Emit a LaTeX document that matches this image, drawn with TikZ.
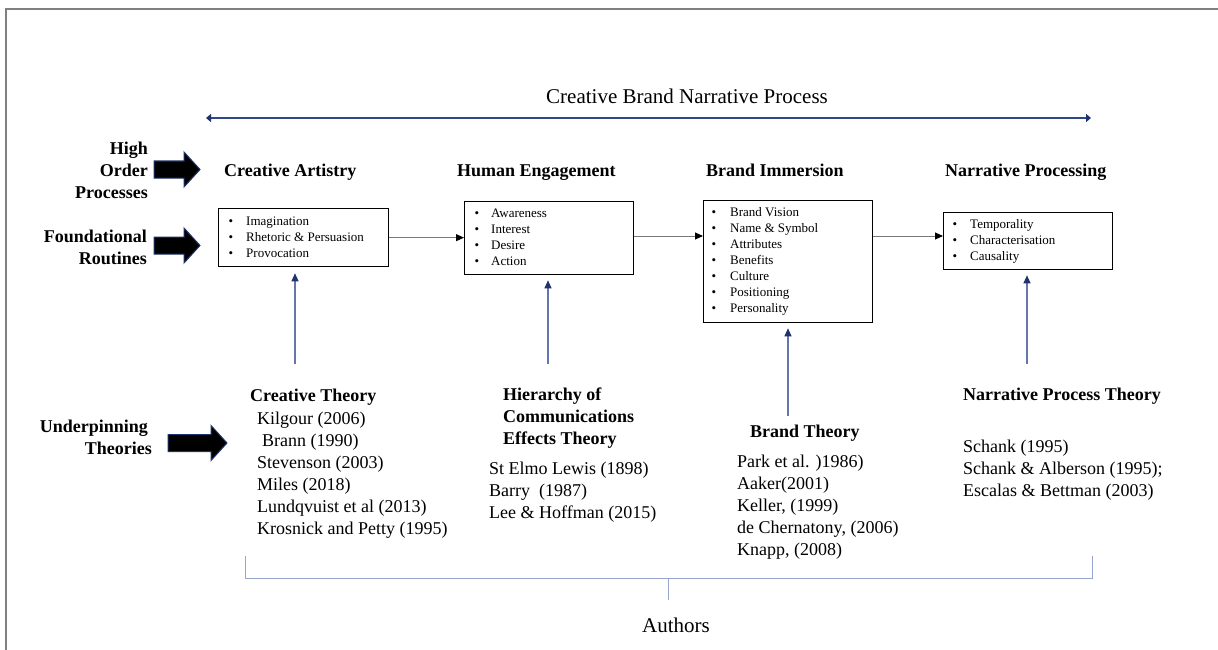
\documentclass[tikz,border=0pt]{standalone}
\usepackage{fontspec}
\setmainfont{Liberation Serif}
\usetikzlibrary{arrows.meta}

\definecolor{framegray}{RGB}{128,128,128}
\definecolor{navyblue}{RGB}{31,52,110}
\definecolor{spanline}{RGB}{48,72,138}
\definecolor{feedline}{RGB}{100,118,172}
\definecolor{bracketline}{RGB}{150,164,206}
\definecolor{flowgray}{RGB}{120,120,120}

% thick black block arrow pointing right: #1 = left x, #2 = centre y, #3 = length
\newcommand\drawfatarrow[3]{%
  \draw[fatarrow] (#1,#2-8.5) -- (#1+#3-16,#2-8.5) -- (#1+#3-16,#2-17.5)
    -- (#1+#3,#2) -- (#1+#3-16,#2+17.5) -- (#1+#3-16,#2+8.5) -- (#1,#2+8.5) -- cycle;}

\tikzset{
  fatarrow/.style={fill=black, draw=navyblue, line width=1pt, line join=miter},
  sidelabel/.style={anchor=base east, inner sep=0pt, font=\fontsize{18}{22}\selectfont\bfseries},
  stagehead/.style={anchor=base west, inner sep=0pt, font=\fontsize{18}{22}\selectfont\bfseries},
  theoryhead/.style={anchor=base west, inner sep=0pt, font=\fontsize{18}{22}\selectfont\bfseries},
  author/.style={anchor=base west, inner sep=0pt, font=\fontsize{18}{22}\selectfont},
  itembox/.style={draw=black, line width=1.3pt, anchor=north west, inner sep=0pt},
  bulletmark/.style={anchor=base, inner sep=0pt, font=\fontsize{13}{16}\selectfont},
  itemtext/.style={anchor=base west, inner sep=0pt, font=\fontsize{13}{16}\selectfont},
  flow/.style={draw=flowgray, line width=0.9pt, -{Triangle[length=8pt,width=7pt,color=black]}},
  feed/.style={draw=feedline, line width=1.1pt, -{Triangle[length=8pt,width=7pt,color=navyblue]}},
  span/.style={draw=spanline, line width=2.6pt, {Triangle[length=5pt,width=8pt,color=navyblue]}-{Triangle[length=5pt,width=8pt,color=navyblue]}},
  bracket/.style={draw=bracketline, line width=1pt},
}

\begin{document}
\begin{tikzpicture}[x=1pt, y=-1pt]
\useasboundingbox (0,0) rectangle (1218,650);

% page frame
\draw[framegray, line width=2pt] (5.5,650) -- (5.5,9.5) -- (1218,9.5);

% overall process span
\node[anchor=base west, inner sep=0pt, font=\fontsize{21}{25}\selectfont] (title) at (546,104) {Creative Brand Narrative Process};
\coordinate (spanL) at (206,118);
\coordinate (spanR) at (1091,118);
\draw[span] (spanL) -- (spanR);

% row labels
\node[sidelabel] (lab1) at (148,154) {High};
\node[sidelabel] (lab2) at (148,176) {Order};
\node[sidelabel] (lab3) at (148,198) {Processes};
\node[sidelabel] (lab4) at (147,242) {Foundational};
\node[sidelabel] (lab5) at (147,264) {Routines};
\node[sidelabel] (lab6) at (148,432) {Underpinning};
\node[sidelabel] (lab7) at (152,454) {Theories};

\drawfatarrow{154}{169.5}{46}
\drawfatarrow{154}{245.5}{46}
\drawfatarrow{168}{443}{59}

% stage headings
\node[stagehead] (h1) at (224,176) {Creative Artistry};
\node[stagehead] (h2) at (457,176) {Human Engagement};
\node[stagehead] (h3) at (706,176) {Brand Immersion};
\node[stagehead] (h4) at (945,176) {Narrative Processing};

% routine boxes
\node[itembox, minimum width=170pt, minimum height=58pt] (b1) at (218,208) {};
\node[itembox, minimum width=169pt, minimum height=73pt] (b2) at (464,201) {};
\node[itembox, minimum width=169pt, minimum height=122pt] (b3) at (703,200) {};
\node[itembox, minimum width=169pt, minimum height=57pt] (b4) at (943,212) {};

\foreach \t [count=\i] in {Imagination, Rhetoric \& Persuasion, Provocation} {
  \node[bulletmark] (b1d\i) at (231,225.5+16*\i-16) {•};
  \node[itemtext] (b1t\i) at (246,225.5+16*\i-16) {\t};
}
\foreach \t [count=\i] in {Awareness, Interest, Desire, Action} {
  \node[bulletmark] (b2d\i) at (477,217.5+16*\i-16) {•};
  \node[itemtext] (b2t\i) at (491,217.5+16*\i-16) {\t};
}
\foreach \t [count=\i] in {Brand Vision, Name \& Symbol, Attributes, Benefits, Culture, Positioning, Personality} {
  \node[bulletmark] (b3d\i) at (714,216.5+16*\i-16) {•};
  \node[itemtext] (b3t\i) at (730,216.5+16*\i-16) {\t};
}
\foreach \t [count=\i] in {Temporality, Characterisation, Causality} {
  \node[bulletmark] (b4d\i) at (955,228.5+16*\i-16) {•};
  \node[itemtext] (b4t\i) at (970,228.5+16*\i-16) {\t};
}

% flow between boxes
\draw[flow] (b1.east) -- (b2.west |- b1.east);
\draw[flow] (b2.east |- 0,236) -- (b3.west |- 0,236);
\draw[flow] (b3.east |- 0,236) -- (b4.west |- 0,236);

% underpinning theories
\node[theoryhead] (t1) at (250,401) {Creative Theory};
\foreach \t [count=\i] in {Kilgour (2006), {\kern5pt Brann (1990)}, Stevenson (2003), Miles (2018), Lundqvuist et al (2013), Krosnick and Petty (1995)} {
  \node[author] (t1a\i) at (257,424+22*\i-22) {\t};
}

\node[theoryhead] (t2a) at (503,400) {Hierarchy of};
\node[theoryhead] (t2b) at (503,422) {Communications};
\node[theoryhead] (t2c) at (503,444) {Effects Theory};
\foreach \t [count=\i] in {St Elmo Lewis (1898), {Barry\ \ (1987)}, Lee \& Hoffman (2015)} {
  \node[author] (t2x\i) at (489,474+22*\i-22) {\t};
}

\node[theoryhead] (t3) at (750,437) {Brand Theory};
\foreach \t [count=\i] in {Park et al. )1986), Aaker(2001), {Keller, (1999)}, {de Chernatony, (2006)}, {Knapp, (2008)}} {
  \node[author] (t3a\i) at (737,467+22*\i-22) {\t};
}

\node[theoryhead] (t4) at (963,400) {Narrative Process Theory};
\foreach \t [count=\i] in {Schank (1995), Schank \& Alberson (1995);, Escalas \& Bettman (2003)} {
  \node[author] (t4a\i) at (963,452+22*\i-22) {\t};
}

% theories feeding the routines
\coordinate (f1) at (295,364);
\coordinate (f2) at (548,364);
\coordinate (f3) at (788,416);
\coordinate (f4) at (1027,364);
\draw[feed, shorten >=6pt] (f1) -- (b1.south -| f1);
\draw[feed, shorten >=5pt] (f2) -- (b2.south -| f2);
\draw[feed, shorten >=5pt] (f3) -- (b3.south -| f3);
\draw[feed, shorten >=5pt] (f4) -- (b4.south -| f4);

% authors bracket
\coordinate (brL) at (245,556);
\coordinate (brR) at (1092,556);
\coordinate (brM) at (668,578);
\coordinate (brT) at (668,600);
\draw[bracket] (brL) -- (brL |- brM) -- (brR |- brM) -- (brR);
\draw[bracket] (brM) -- (brT);
\node[anchor=base, inner sep=0pt, font=\fontsize{21}{25}\selectfont] (authors) at (676,632) {Authors};

\end{tikzpicture}
\end{document}
